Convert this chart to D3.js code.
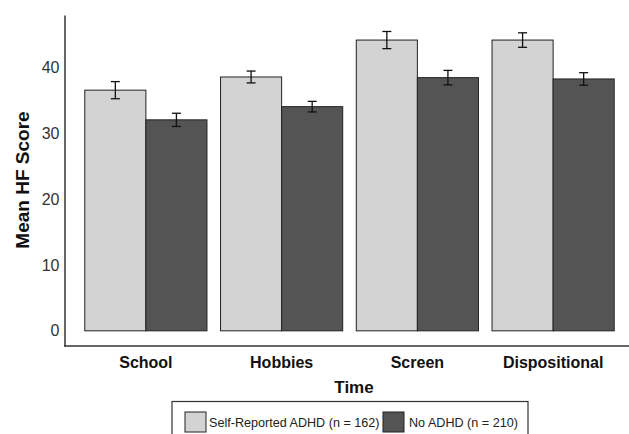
<!DOCTYPE html>
<html>
<head>
<meta charset="utf-8">
<script src="https://cdn.jsdelivr.net/npm/d3@7"></script>
<style>
  body { margin: 0; background: #fff; }
  svg { display: block; font-family: "Liberation Sans", Arial, sans-serif; }
</style>
</head>
<body>
<div id="chart"></div>
<script>
// data
const times = ["School", "Hobbies", "Screen", "Dispositional"];
const groups = ["Self-Reported ADHD (n = 162)", "No ADHD (n = 210)"];
const adhdMean = [36.5, 38.5, 44.1, 44.1];
const adhdErr = [1.3, 0.9, 1.3, 1.1];
const noAdhdMean = [32.0, 34.0, 38.4, 38.2];
const noAdhdErr = [1.0, 0.8, 1.1, 0.95];
const yTicks = [0, 10, 20, 30, 40];

const W = 629, H = 434;
const colors = ["#d3d3d3", "#545454"];

const svg = d3.select("#chart").append("svg")
  .attr("width", W).attr("height", H);

const x = d3.scaleBand()
  .domain(times)
  .range([78, 621])
  .paddingInner(0.1)
  .paddingOuter(0.05);

const xInner = d3.scaleBand()
  .domain(groups)
  .range([0, x.bandwidth()]);

const y = d3.scaleLinear()
  .domain([-2.3, 47.9])
  .range([346, 15]);

const rows = [];
times.forEach((t, i) => {
  rows.push({ time: t, group: groups[0], mean: adhdMean[i], err: adhdErr[i], c: colors[0] });
  rows.push({ time: t, group: groups[1], mean: noAdhdMean[i], err: noAdhdErr[i], c: colors[1] });
});

// bars
svg.append("g").selectAll("rect")
  .data(rows)
  .enter().append("rect")
  .attr("x", d => x(d.time) + xInner(d.group))
  .attr("y", d => y(d.mean))
  .attr("width", xInner.bandwidth())
  .attr("height", d => y(0) - y(d.mean))
  .attr("fill", d => d.c)
  .attr("stroke", "#222")
  .attr("stroke-width", 1);

// error bars
const eb = svg.append("g").attr("stroke", "#111").attr("stroke-width", 1.3);
rows.forEach(d => {
  const cx = x(d.time) + xInner(d.group) + xInner.bandwidth() / 2;
  eb.append("line").attr("x1", cx).attr("x2", cx)
    .attr("y1", y(d.mean + d.err)).attr("y2", y(d.mean - d.err));
  [d.mean + d.err, d.mean - d.err].forEach(v => {
    eb.append("line").attr("x1", cx - 4.5).attr("x2", cx + 4.5)
      .attr("y1", y(v)).attr("y2", y(v));
  });
});

// axes
const yAxis = svg.append("g")
  .attr("transform", "translate(64.5,0)")
  .call(d3.axisLeft(y).tickValues(yTicks).tickSize(0).tickPadding(5));
yAxis.select(".domain").attr("stroke", "#333").attr("stroke-width", 1.5);
yAxis.selectAll("text").attr("font-size", 16).attr("fill", "#333")
  .attr("font-family", "Liberation Sans, Arial, sans-serif");

const xAxis = svg.append("g")
  .attr("transform", "translate(0,346)")
  .call(d3.axisBottom(x).tickSize(0).tickPadding(11));
xAxis.select(".domain").remove();
svg.append("line").attr("x1", 64).attr("x2", W).attr("y1", 346).attr("y2", 346)
  .attr("stroke", "#333").attr("stroke-width", 1.5);
xAxis.selectAll("text").attr("font-size", 16).attr("font-weight", "bold")
  .attr("fill", "#111").attr("font-family", "Liberation Sans, Arial, sans-serif");

// axis titles
svg.append("text")
  .attr("transform", "translate(29,180) rotate(-90)")
  .attr("text-anchor", "middle")
  .attr("font-size", 19).attr("font-weight", "bold").attr("fill", "#111")
  .text("Mean HF Score");

svg.append("text")
  .attr("x", 354).attr("y", 393)
  .attr("text-anchor", "middle")
  .attr("font-size", 17).attr("font-weight", "bold").attr("fill", "#111")
  .text("Time");

// legend
const lg = svg.append("g");
lg.append("rect").attr("x", 172).attr("y", 401.5).attr("width", 356).attr("height", 40)
  .attr("fill", "#fff").attr("stroke", "#333").attr("stroke-width", 1.2);
const lx = [185, 383];
const tx = [209, 409];
groups.forEach((g, i) => {
  lg.append("rect").attr("x", lx[i]).attr("y", 412).attr("width", 21).attr("height", 20)
    .attr("fill", colors[i]).attr("stroke", "#222").attr("stroke-width", 1);
  lg.append("text").attr("x", tx[i]).attr("y", 427)
    .attr("font-size", 12.6).attr("fill", "#222")
    .text(g);
});
</script>
</body>
</html>
